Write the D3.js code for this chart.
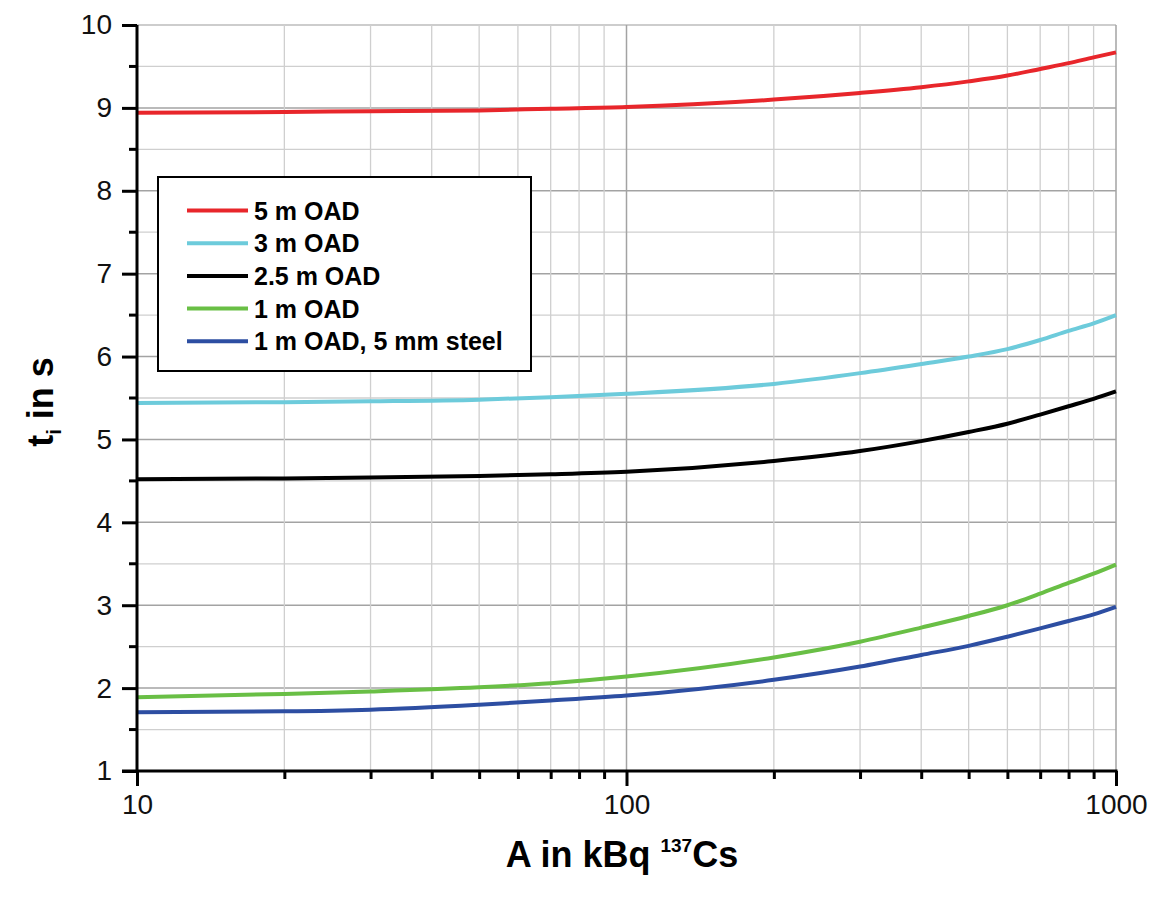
<!DOCTYPE html>
<html>
<head>
<meta charset="utf-8">
<script src="https://cdn.jsdelivr.net/npm/d3@7"></script>
<style>
  body { margin: 0; background: #fff; }
  text { font-family: "Liberation Sans", Arial, sans-serif; }
</style>
</head>
<body>
<svg id="chart" width="1153" height="898"></svg>
<script>
// activity in kBq 137Cs
var activity = [10, 20, 30, 50, 70, 100, 200, 300, 400, 500, 600, 700, 800, 900, 1000];

var oad5m   = [8.94, 8.95, 8.96, 8.97, 8.99, 9.01, 9.10, 9.18, 9.25, 9.32, 9.39, 9.47, 9.54, 9.61, 9.67];
var oad3m   = [5.44, 5.45, 5.46, 5.48, 5.51, 5.55, 5.67, 5.80, 5.91, 6.00, 6.09, 6.20, 6.31, 6.40, 6.50];
var oad25m  = [4.52, 4.53, 4.54, 4.56, 4.58, 4.61, 4.74, 4.86, 4.98, 5.09, 5.19, 5.30, 5.40, 5.49, 5.58];
var oad1m   = [1.89, 1.93, 1.96, 2.01, 2.06, 2.14, 2.37, 2.56, 2.73, 2.87, 3.00, 3.14, 3.27, 3.38, 3.49];
var oad1mSt = [1.71, 1.72, 1.74, 1.80, 1.85, 1.91, 2.10, 2.26, 2.40, 2.51, 2.62, 2.72, 2.81, 2.89, 2.98];

var seriesNames  = ["5 m OAD", "3 m OAD", "2.5 m OAD", "1 m OAD", "1 m OAD, 5 mm steel"];
var seriesColors = ["#e8262b", "#6dcbdb", "#000000", "#69bf45", "#2d4ea2"];
var seriesValues = [oad5m, oad3m, oad25m, oad1m, oad1mSt];

var yTickLabels = [1, 2, 3, 4, 5, 6, 7, 8, 9, 10];
var xTickLabels = [10, 100, 1000];

var margin = {left: 137, right: 37, top: 25, bottom: 127};
var svg = d3.select('#chart');
var W = 1153, H = 898;

var x = d3.scaleLog()
  .domain([10, 1000])
  .range([margin.left, W - margin.right]);

var y = d3.scaleLinear()
  .domain([1, 10])
  .range([H - margin.bottom, margin.top]);

/* GRID */
var grid = svg.append('g');
var minorY = d3.range(1.5, 10, 1);

grid.selectAll('line.hminor')
  .data(minorY)
  .enter().append('line')
  .attr('x1', x(10)).attr('x2', x(1000))
  .attr('y1', d => y(d)).attr('y2', d => y(d))
  .style('stroke', '#cfcfcf').style('stroke-width', 1.3);

grid.selectAll('line.hmajor')
  .data(yTickLabels)
  .enter().append('line')
  .attr('x1', x(10)).attr('x2', x(1000))
  .attr('y1', d => y(d)).attr('y2', d => y(d))
  .style('stroke', d => d === 10 ? '#bdbdbd' : '#a3a3a3').style('stroke-width', 1.5);

grid.selectAll('line.v')
  .data(x.ticks())
  .enter().append('line')
  .attr('x1', d => x(d)).attr('x2', d => x(d))
  .attr('y1', y(1)).attr('y2', y(10))
  .style('stroke', d => (d === 100 || d === 1000) ? '#a3a3a3' : '#cfcfcf')
  .style('stroke-width', d => (d === 100 || d === 1000) ? 1.5 : 1.3);

/* CURVES */
var line = d3.line()
  .x(d => x(d[0]))
  .y(d => y(d[1]))
  .curve(d3.curveMonotoneX);

svg.append('g').selectAll('path')
  .data(seriesValues)
  .enter().append('path')
  .attr('d', v => line(activity.map((a, i) => [a, v[i]])))
  .style('fill', 'none')
  .style('stroke', (v, i) => seriesColors[i])
  .style('stroke-width', 4);

/* AXES */
var yAxis = d3.axisLeft(y)
  .tickValues(yTickLabels)
  .tickSize(15)
  .tickPadding(10)
  .tickFormat(d3.format('d'));

var gy = svg.append('g')
  .attr('transform', 'translate(' + margin.left + ',0)')
  .call(yAxis);

gy.selectAll('.tick.minor')
  .data(minorY)
  .enter().append('line')
  .attr('x1', -8).attr('x2', 0)
  .attr('y1', d => y(d)).attr('y2', d => y(d))
  .style('stroke', '#000').style('stroke-width', 3);

var xAxis = d3.axisBottom(x)
  .tickValues(x.ticks())
  .tickSize(8)
  .tickPadding(16)
  .tickFormat(d => xTickLabels.indexOf(d) >= 0 ? d : '');

var gx = svg.append('g')
  .attr('transform', 'translate(0,' + y(1) + ')')
  .call(xAxis);

gx.selectAll('.tick line')
  .attr('y2', d => xTickLabels.indexOf(d) >= 0 ? 15 : 8);
gx.selectAll('.tick text')
  .attr('y', 23);

[gx, gy].forEach(g => {
  g.select('.domain').attr('d', null);
  g.selectAll('.tick line').style('stroke', '#000').style('stroke-width', 3);
  g.selectAll('.tick text')
    .style('font-size', '28px')
    .style('fill', '#111');
});

svg.append('line')
  .attr('x1', x(10)).attr('x2', x(10))
  .attr('y1', y(10)).attr('y2', y(1) + 1.5)
  .style('stroke', '#000').style('stroke-width', 3);
svg.append('line')
  .attr('x1', x(10) - 15).attr('x2', x(1000) + 1.5)
  .attr('y1', y(1)).attr('y2', y(1))
  .style('stroke', '#000').style('stroke-width', 3);

/* AXIS TITLES */
var xt = svg.append('text')
  .attr('x', 622).attr('y', 867)
  .attr('text-anchor', 'middle')
  .style('font-size', '36px').style('font-weight', 'bold');
xt.append('tspan').text('A in kBq ');
xt.append('tspan').attr('dy', -15).style('font-size', '19px').text('137');
xt.append('tspan').attr('dy', 15).text('Cs');

var yt = svg.append('text')
  .attr('transform', 'translate(53,402) rotate(-90)')
  .attr('text-anchor', 'middle')
  .style('font-size', '36px').style('font-weight', 'bold');
yt.append('tspan').text('t');
yt.append('tspan').attr('dy', 8).style('font-size', '20px').text('i');
yt.append('tspan').attr('dy', -8).text(' in s');

/* LEGEND */
var legend = svg.append('g');
legend.append('rect')
  .attr('x', 158).attr('y', 177)
  .attr('width', 373).attr('height', 194)
  .style('fill', '#fff').style('stroke', '#000').style('stroke-width', 2);

var items = legend.selectAll('g.item')
  .data(seriesNames)
  .enter().append('g')
  .attr('transform', (d, i) => 'translate(0,' + (210.5 + i * 32.7) + ')');

items.append('line')
  .attr('x1', 187).attr('x2', 248)
  .style('stroke', (d, i) => seriesColors[i])
  .style('stroke-width', 4);

items.append('text')
  .attr('x', 254).attr('dy', '0.36em')
  .style('font-size', '25px').style('font-weight', 'bold')
  .text(d => d);
</script>
</body>
</html>
